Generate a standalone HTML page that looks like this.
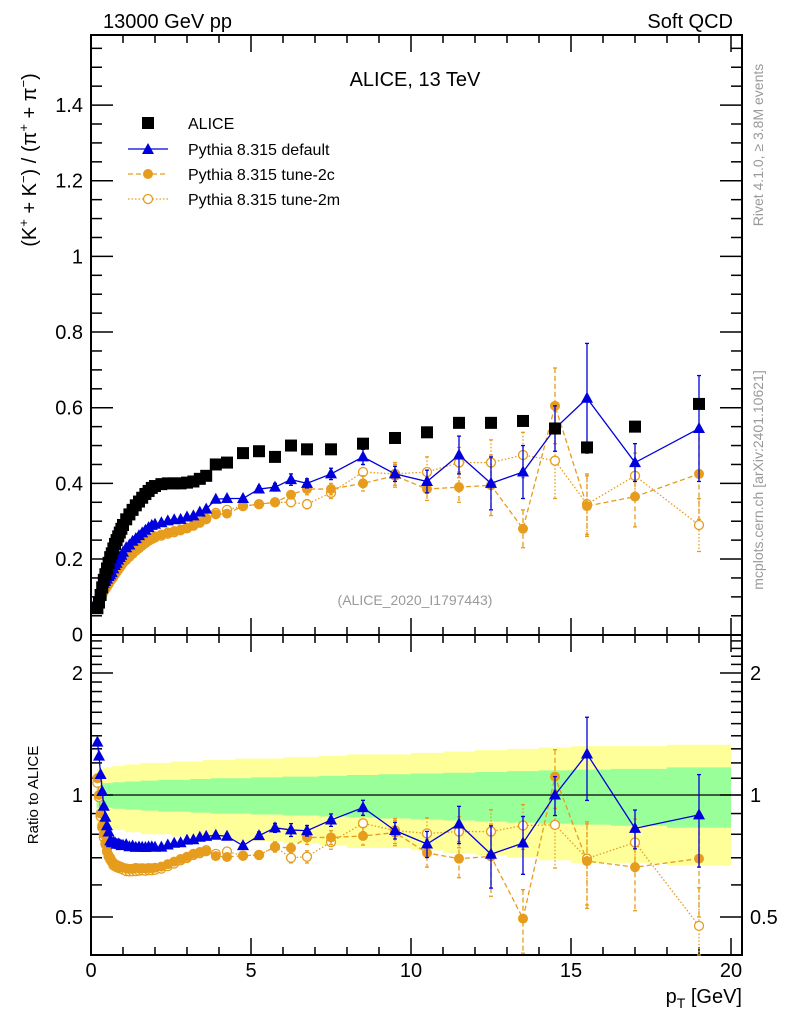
<!DOCTYPE html>
<html><head><meta charset="utf-8"><style>
html,body{margin:0;padding:0;background:#fff;}
svg{display:block;font-family:"Liberation Sans","DejaVu Sans",sans-serif;}
</style></head><body>
<svg id="chart" width="786" height="1024" viewBox="0 0 786 1024" xmlns="http://www.w3.org/2000/svg">
<text x="103" y="28" font-size="20">13000 GeV pp</text>
<text x="733" y="28" font-size="20" text-anchor="end">Soft QCD</text>
<text x="415" y="86" font-size="20" text-anchor="middle">ALICE, 13 TeV</text>
<text x="415" y="605" font-size="14" fill="#999" text-anchor="middle">(ALICE_2020_I1797443)</text>
<text transform="translate(36,160) rotate(-90)" font-size="20" text-anchor="middle">(K<tspan font-size="13" dy="-8">+</tspan><tspan dy="8"> + K</tspan><tspan font-size="13" dy="-8">−</tspan><tspan dy="8">) / (π</tspan><tspan font-size="13" dy="-8">+</tspan><tspan dy="8"> + π</tspan><tspan font-size="13" dy="-8">−</tspan><tspan dy="8">)</tspan></text>
<text transform="translate(38,795) rotate(-90)" font-size="15" text-anchor="middle">Ratio to ALICE</text>
<text transform="translate(763,145) rotate(-90)" font-size="14" fill="#999" text-anchor="middle">Rivet 4.1.0, ≥ 3.8M events</text>
<text transform="translate(763,480) rotate(-90)" font-size="14" fill="#999" text-anchor="middle">mcplots.cern.ch [arXiv:2401.10621]</text>
<text x="742" y="1003" font-size="20" text-anchor="end">p<tspan font-size="14" dy="5">T</tspan><tspan dy="-5"> [GeV]</tspan></text>
<g id="bands"></g><g id="axes"></g><g id="series"></g>
<g font-size="16">
 <rect x="142" y="117" width="12" height="12" fill="#000"/>
 <text x="188" y="129">ALICE</text>
 <line x1="128" y1="149" x2="168" y2="149" stroke="#0000dd" stroke-width="1.3"/>
 <polygon points="148,143 154,154 142,154" fill="#0000dd"/>
 <text x="188" y="155">Pythia 8.315 default</text>
 <line x1="128" y1="174" x2="168" y2="174" stroke="#e69c1c" stroke-width="1.3" stroke-dasharray="5,3"/>
 <circle cx="148" cy="174" r="5" fill="#e69c1c"/>
 <text x="188" y="180">Pythia 8.315 tune-2c</text>
 <line x1="128" y1="199" x2="168" y2="199" stroke="#e69c1c" stroke-width="1.3" stroke-dasharray="1.5,2"/>
 <circle cx="148" cy="199" r="4.5" fill="#fff" stroke="#e69c1c" stroke-width="1.3"/>
 <text x="188" y="205">Pythia 8.315 tune-2m</text>
</g>
</svg>
<script>
const pt=[0.2,0.25,0.3,0.35,0.4,0.45,0.5,0.55,0.6,0.65,0.7,0.75,0.8,0.85,0.9,0.95,1.0,1.1,1.2,1.3,1.4,1.5,1.6,1.7,1.8,1.9,2.0,2.2,2.4,2.6,2.8,3.0,3.2,3.4,3.6,3.9,4.25,4.75,5.25,5.75,6.25,6.75,7.5,8.5,9.5,10.5,11.5,12.5,13.5,14.5,15.5,17,19];
const alice=[0.07,0.085,0.105,0.125,0.145,0.16,0.175,0.19,0.205,0.215,0.228,0.24,0.25,0.26,0.27,0.28,0.29,0.305,0.318,0.33,0.342,0.352,0.362,0.372,0.38,0.388,0.393,0.398,0.4,0.4,0.4,0.402,0.405,0.412,0.42,0.45,0.455,0.48,0.485,0.47,0.5,0.49,0.49,0.505,0.52,0.535,0.56,0.56,0.565,0.545,0.495,0.55,0.61];
const bandInner=[0.07,0.07,0.07,0.07,0.07,0.07,0.07,0.07,0.07,0.07,0.075,0.075,0.075,0.075,0.075,0.075,0.075,0.08,0.08,0.08,0.08,0.08,0.085,0.085,0.085,0.085,0.085,0.09,0.09,0.09,0.09,0.09,0.095,0.095,0.095,0.1,0.1,0.1,0.105,0.105,0.11,0.11,0.115,0.12,0.125,0.13,0.135,0.14,0.145,0.15,0.155,0.16,0.17];
const bandOuter=[0.16,0.16,0.16,0.16,0.17,0.17,0.17,0.17,0.17,0.17,0.18,0.18,0.18,0.18,0.18,0.18,0.18,0.19,0.19,0.19,0.19,0.19,0.2,0.2,0.2,0.2,0.2,0.2,0.2,0.21,0.21,0.21,0.21,0.21,0.22,0.22,0.22,0.23,0.23,0.23,0.24,0.24,0.25,0.26,0.26,0.27,0.28,0.29,0.3,0.31,0.32,0.32,0.33];
const pyDefault=[0.0945,0.106,0.118,0.1275,0.136,0.141,0.147,0.154,0.158,0.164,0.174,0.183,0.189,0.197,0.204,0.210,0.218,0.230,0.237,0.247,0.254,0.262,0.269,0.276,0.283,0.289,0.292,0.296,0.301,0.304,0.305,0.311,0.314,0.324,0.332,0.358,0.36,0.36,0.385,0.39,0.41,0.40,0.425,0.47,0.425,0.405,0.475,0.40,0.43,0.545,0.625,0.455,0.545];
const pyDefaultErr=[0,0,0,0,0,0,0,0,0,0,0,0,0,0,0,0,0,0,0,0,0,0,0,0,0,0,0,0,0,0,0,0,0,0,0,0.004,0.005,0.006,0.008,0.01,0.015,0.012,0.015,0.02,0.02,0.03,0.05,0.07,0.07,0.06,0.145,0.05,0.14];
const py2c=[0.077,0.085,0.0945,0.105,0.116,0.122,0.128,0.135,0.1435,0.148,0.155,0.162,0.168,0.174,0.180,0.186,0.192,0.201,0.209,0.217,0.226,0.232,0.239,0.245,0.251,0.256,0.260,0.265,0.270,0.274,0.278,0.283,0.29,0.298,0.305,0.318,0.32,0.34,0.345,0.35,0.37,0.385,0.385,0.40,0.42,0.385,0.39,0.395,0.28,0.605,0.34,0.365,0.425];
const py2cErr=[0,0,0,0,0,0,0,0,0,0,0,0,0,0,0,0,0,0,0,0,0,0,0,0,0,0,0,0,0,0,0,0,0,0,0,0.004,0.005,0.006,0.008,0.01,0.01,0.015,0.015,0.02,0.03,0.03,0.04,0.08,0.05,0.10,0.08,0.08,0.12];
const py2m=[0.075,0.084,0.093,0.104,0.114,0.121,0.127,0.134,0.142,0.147,0.153,0.160,0.166,0.172,0.178,0.184,0.190,0.198,0.206,0.214,0.222,0.229,0.236,0.242,0.248,0.253,0.257,0.262,0.267,0.271,0.276,0.281,0.288,0.296,0.307,0.322,0.33,0.34,0.345,0.35,0.35,0.345,0.375,0.43,0.425,0.43,0.455,0.455,0.475,0.46,0.345,0.42,0.29];
const py2mErr=[0,0,0,0,0,0,0,0,0,0,0,0,0,0,0,0,0,0,0,0,0,0,0,0,0,0,0,0,0,0,0,0,0,0,0,0.004,0.005,0.006,0.008,0.01,0.01,0.012,0.015,0.02,0.03,0.04,0.04,0.06,0.06,0.10,0.08,0.06,0.07];
const xTicks=[0,5,10,15,20];
const yTicks=[0,0.2,0.4,0.6,0.8,1,1.2,1.4];
const rTicks=[0.5,1,2];

const NS='http://www.w3.org/2000/svg';
const L=91,R=742,MT=35,MB=635,RT=635,RB=955;
const X=v=>L+v*32;
const Y=v=>634.7-v*378.3;
const RY=v=>795-122*Math.log2(v);
function mk(parent,tag,attrs){const e=document.createElementNS(NS,tag);for(const k in attrs)e.setAttribute(k,attrs[k]);parent.appendChild(e);return e;}
const bands=document.getElementById('bands'),axes=document.getElementById('axes'),ser=document.getElementById('series');

const edges=[0.175];
for(let i=0;i<pt.length-1;i++)edges.push((pt[i]+pt[i+1])/2);
edges.push(20);
function bandPath(fr){let top='',bot='';
 for(let i=0;i<pt.length;i++){top+=(i?'L':'M')+X(edges[i])+','+RY(1+fr[i])+'L'+X(edges[i+1])+','+RY(1+fr[i]);}
 for(let i=pt.length-1;i>=0;i--){bot+='L'+X(edges[i+1])+','+RY(1-fr[i])+'L'+X(edges[i])+','+RY(1-fr[i]);}
 return top+bot+'Z';}
const by=mk(bands,'path',{d:bandPath(bandOuter),fill:'#ffff99'});


const bg=mk(bands,'path',{d:bandPath(bandInner),fill:'#99ff99'});


const one=mk(bands,'line',{x1:L,x2:R,y1:RY(1),y2:RY(1),stroke:'#000','stroke-width':1.2});



for(const [t,b,n] of [[MT,MB,'main-frame'],[RT,RB,'ratio-frame']]){
 const f=mk(axes,'rect',{x:L,y:t,width:R-L,height:b-t,fill:'none',stroke:'#000','stroke-width':2});
 
 
}
for(let v=0;v<=20;v++){
 const maj=v%5===0,len=maj?17:8;
 for(const [yb,yt] of [[MB,MT],[RB,RT]]){
  mk(axes,'line',{x1:X(v),x2:X(v),y1:yb,y2:yb-len,stroke:'#000','stroke-width':1.5});
  mk(axes,'line',{x1:X(v),x2:X(v),y1:yt,y2:yt+len,stroke:'#000','stroke-width':1.5});
 }
}
xTicks.forEach(v=>{const t=mk(axes,'text',{x:X(v),y:977,'font-size':20,'text-anchor':'middle'});t.textContent=v;
 
 });
for(let k=0;k<=31;k++){const v=k*0.05;const maj=k%4===0,len=maj?22:11;const y=Y(v);if(y<MT)continue;
 mk(axes,'line',{x1:L,x2:L+len,y1:y,y2:y,stroke:'#000','stroke-width':1.5});
 mk(axes,'line',{x1:R,x2:R-len,y1:y,y2:y,stroke:'#000','stroke-width':1.5});}
yTicks.forEach(v=>{const t=mk(axes,'text',{x:L-8,y:Y(v)+7,'font-size':20,'text-anchor':'end'});t.textContent=v;
 
 });
for(let k=4;k<=24;k++){const v=k/10;const maj=(k===5||k===10||k===20),len=maj?22:11;const y=RY(v);if(y<RT||y>RB)continue;
 mk(axes,'line',{x1:L,x2:L+len,y1:y,y2:y,stroke:'#000','stroke-width':1.5});
 mk(axes,'line',{x1:R,x2:R-len,y1:y,y2:y,stroke:'#000','stroke-width':1.5});}
rTicks.forEach(v=>{for(const [x,a] of [[L-8,'end'],[R+8,'start']]){const t=mk(axes,'text',{x:x,y:RY(v)+7,'font-size':20,'text-anchor':a});t.textContent=v;
 
 }});

function drawSeries(vals,errs,opt,ratio,name){
 const g=mk(ser,'g',{});
 
 
 const yf=ratio?(i=>RY(vals[i]/alice[i])):(i=>Y(vals[i]));
 const ef=ratio?((i,s)=>RY((vals[i]+s*errs[i])/alice[i])):((i,s)=>Y(vals[i]+s*errs[i]));
 const lo=ratio?RB:MB;
 if(opt.line){let d='';pt.forEach((p,i)=>{d+=(i?'L':'M')+X(p)+','+Math.min(yf(i),lo);});
  mk(g,'path',{d:d,fill:'none',stroke:opt.color,'stroke-width':1.3,'stroke-dasharray':opt.dash||'none'});}
 pt.forEach((p,i)=>{
  if(errs&&errs[i]>0){const y1=Math.min(ef(i,1),lo),y2=Math.min(ef(i,-1),lo);
   mk(g,'line',{x1:X(p),x2:X(p),y1:y1,y2:y2,stroke:opt.color,'stroke-width':1.3,'stroke-dasharray':opt.dash||'none'});
   mk(g,'line',{x1:X(p)-2,x2:X(p)+2,y1:y1,y2:y1,stroke:opt.color,'stroke-width':1.3});
   mk(g,'line',{x1:X(p)-2,x2:X(p)+2,y1:y2,y2:y2,stroke:opt.color,'stroke-width':1.3});}
  const x=X(p),y=yf(i);if(y>lo)return;
  let m;
  if(opt.marker==='sq')m=mk(g,'rect',{x:x-6,y:y-6,width:12,height:12,fill:opt.color});
  else if(opt.marker==='tri')m=mk(g,'polygon',{points:`${x},${y-6.5} ${x+6},${y+4.5} ${x-6},${y+4.5}`,fill:opt.color});
  else if(opt.marker==='dot')m=mk(g,'circle',{cx:x,cy:y,r:5,fill:opt.color});
  else m=mk(g,'circle',{cx:x,cy:y,r:4.5,fill:'#fff',stroke:opt.color,'stroke-width':1.3});
  
  
 });
}
drawSeries(py2m,py2mErr,{color:'#e69c1c',marker:'open',line:true,dash:'1.5,2'},false,'tune-2m');
drawSeries(py2c,py2cErr,{color:'#e69c1c',marker:'dot',line:true,dash:'5,3'},false,'tune-2c');
drawSeries(pyDefault,pyDefaultErr,{color:'#0000dd',marker:'tri',line:true},false,'pythia-default');
drawSeries(alice,null,{color:'#000',marker:'sq',line:false},false,'alice-data');
drawSeries(py2m,py2mErr,{color:'#e69c1c',marker:'open',line:true,dash:'1.5,2'},true,'tune-2m');
drawSeries(py2c,py2cErr,{color:'#e69c1c',marker:'dot',line:true,dash:'5,3'},true,'tune-2c');
drawSeries(pyDefault,pyDefaultErr,{color:'#0000dd',marker:'tri',line:true},true,'pythia-default');
</script>
</body></html>
